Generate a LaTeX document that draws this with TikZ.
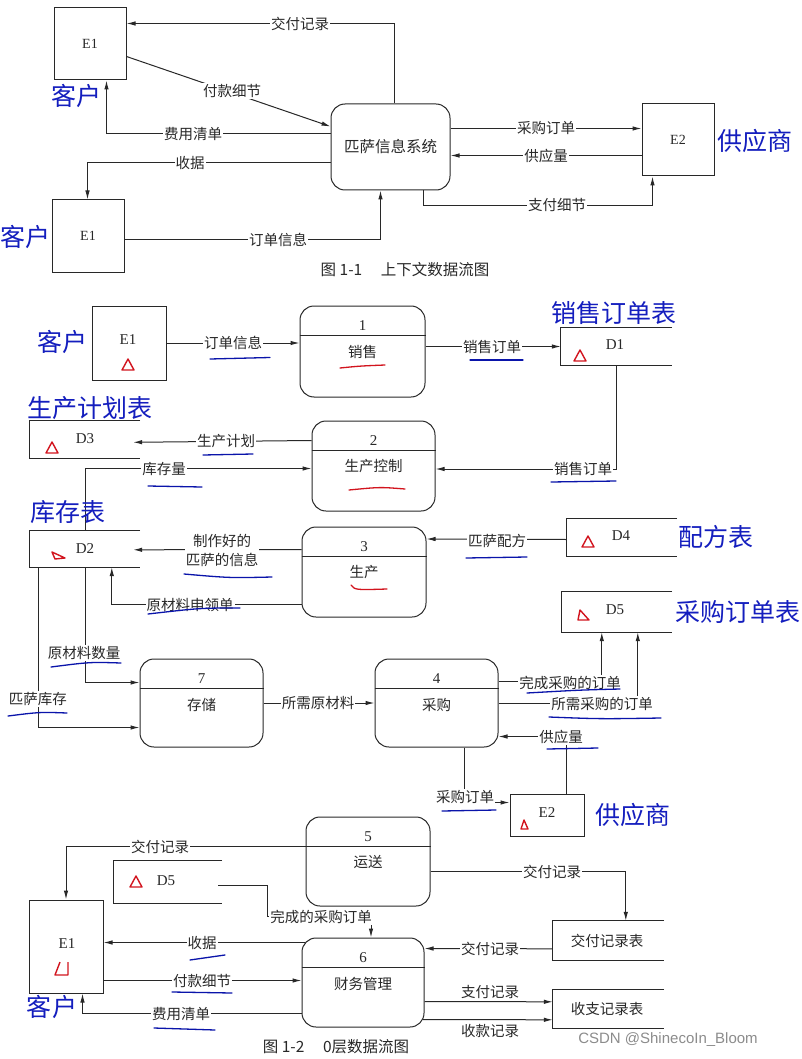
\documentclass[tikz,border=0pt]{standalone}
\usepackage{fontspec}
\setmainfont{Liberation Serif}
\newfontfamily\cjk{Noto Sans CJK SC}
\newfontfamily\wmfont{Liberation Sans}
\usetikzlibrary{calc,arrows.meta}
\definecolor{ink}{RGB}{40,40,40}
\definecolor{hand}{RGB}{20,30,190}
\definecolor{annot}{RGB}{10,20,170}
\definecolor{redmark}{RGB}{210,20,30}
\tikzset{
 ln/.style={draw=ink, line width=1pt},
 arr/.style={ln, -{Latex[length=9pt,width=4.5pt]}},
 ent/.style={draw=ink, line width=1pt, inner sep=0pt, font=\fontsize{14}{16}\selectfont, text=ink},
 proc/.style={draw=ink, line width=1pt, rounded corners=14pt, inner sep=0pt},
 store/.style={inner sep=0pt},
 lbl/.style={font=\cjk\fontsize{14.5}{19}\selectfont, text=ink, fill=white, inner sep=1pt},
 nolbl/.style={font=\cjk\fontsize{14.5}{19}\selectfont, text=ink, inner sep=1pt},
 num/.style={font=\fontsize{15}{17}\selectfont, text=ink, inner sep=0pt},
 bigblue/.style={font=\cjk\fontsize{25}{27}\selectfont, text=hand, inner sep=0pt},
 uline/.style={draw=annot, line width=1.3pt, line cap=round},
 rline/.style={draw=redmark, line width=1.3pt, line cap=round},
 rtri/.style={draw=redmark, line width=1.4pt, line join=round},
 wm/.style={font=\wmfont\fontsize{15}{17}\selectfont, text=black!45, inner sep=0pt},
}
\newcommand\procparts[3]{%
 \draw[ln] ($(#1.north west)+(0,30)$) -- ($(#1.north east)+(0,30)$);
 \node[num] (#1-n) at ($(#1.north)+(0,20)$) {#2};
 \node[nolbl] (#1-t) at ($(#1.north)+(0,46)$) {#3};}
\newcommand\storeshape[1]{\draw[ln] (#1.north east) -- (#1.north west) -- (#1.south west) -- (#1.south east);}
\newcommand\redtri[1]{\draw[rtri] ($(#1)+(-6,5)$) -- ($(#1)+(0,-6)$) -- ($(#1)+(6,5)$) -- cycle;}
\begin{document}
\begin{tikzpicture}[x=1pt,y=-1pt]
\useasboundingbox[fill=white] (0,0) rectangle (802,1059);

% ================= Figure 1-1 =================
\node[ent, minimum width=72pt, minimum height=72pt] (ca) at (90,44) {E1};
\node[ent, minimum width=72pt, minimum height=72pt] (cb) at (88,236) {E1};
\node[proc, minimum width=119pt, minimum height=86pt, font=\cjk\fontsize{15.5}{17}\selectfont, text=ink] (sys) at (390.5,147) {匹萨信息系统};
\node[ent, minimum width=72pt, minimum height=72pt] (sa) at (678,140) {E2};

\draw[arr] ($(sys.north)+(4,0)$) |- ($(ca.north east)+(0,16)$);
\draw[arr] ($(ca.north east)+(0,49)$) -- ($(sys.north west)+(0,23)$);
\draw[arr] ($(sys.north west)+(0,30)$) -| ($(ca.south west)+(53,0)$);
\draw[arr] ($(sys.north west)+(0,59)$) -| ($(cb.north west)+(36,0)$);
\draw[arr] ($(cb.north east)+(0,40)$) -| ($(sys.south west)+(50,0)$);
\draw[arr] ($(sys.north east)+(0,25)$) -- ($(sa.north west)+(0,25)$);
\draw[arr] ($(sa.north west)+(0,52)$) -- ($(sys.north east)+(0,52)$);
\draw[arr] ($(sys.south west)+(93,0)$) -- ++(0,15) -| ($(sa.south west)+(11,0)$);

\node[lbl] (t1) at (300,24) {交付记录};
\node[lbl] (t2) at (232,91) {付款细节};
\node[lbl] (t3) at (193,134) {费用清单};
\node[lbl] (t4) at (190,163) {收据};
\node[lbl] (t5) at (278,240) {订单信息};
\node[lbl] (t6) at (546,128) {采购订单};
\node[lbl] (t7) at (546,156) {供应量};
\node[lbl] (t8) at (557,205) {支付细节};
\node[nolbl, font=\cjk\fontsize{15.5}{19}\selectfont] (cap1) at (405,270) {图 1-1\hspace{1.2em}上下文数据流图};

\node[bigblue] (ca-b) at (76,96) {客户};
\node[bigblue] (cb-b) at (25.5,237) {客户};
\node[bigblue] (sa-b) at (755,141) {供应商};

% ================= Figure 1-2 =================
\node[ent, minimum width=74pt, minimum height=74pt] (c1) at (129,343) {};
\node[num] (c1-t) at (128,340) {E1};
\node[proc, minimum width=125pt, minimum height=91pt] (p1) at (362.5,351.5) {};
\procparts{p1}{1}{销售}
\node[store, minimum width=111pt, minimum height=37pt] (d1) at (616.5,346.5) {};
\storeshape{d1}
\node[num] (d1-t) at (615,345) {D1};

\node[store, minimum width=110pt, minimum height=37pt] (d3) at (85,439.5) {};
\storeshape{d3}
\node[num] (d3-t) at (85,439) {D3};
\node[proc, minimum width=123pt, minimum height=90pt] (p2) at (373.5,466) {};
\procparts{p2}{2}{生产控制}

\node[store, minimum width=110pt, minimum height=36pt] (d2) at (85,549) {};
\storeshape{d2}
\node[num] (d2-t) at (85,549) {D2};
\node[proc, minimum width=124pt, minimum height=90pt] (p3) at (364,572) {};
\procparts{p3}{3}{生产}
\node[store, minimum width=110pt, minimum height=37pt] (d4) at (622,537.5) {};
\storeshape{d4}
\node[num] (d4-t) at (621,536) {D4};
\node[store, minimum width=110pt, minimum height=40pt] (d5) at (617,612) {};
\storeshape{d5}
\node[num] (d5-t) at (615,610) {D5};

\node[proc, minimum width=123pt, minimum height=88pt] (p7) at (201.5,703) {};
\procparts{p7}{7}{存储}
\node[proc, minimum width=123pt, minimum height=88pt] (p4) at (436.5,703) {};
\procparts{p4}{4}{采购}
\node[ent, minimum width=74pt, minimum height=42pt] (s1) at (547,815) {};
\node[num] (s1-t) at (547,813) {E2};

% connectors middle
\draw[arr] (c1.east) -- (c1.east -| p1.west);
\draw[arr] (d1.west -| p1.east) -- (d1.west);
\draw[arr] ($(p2.north west)+(0,20)$) -- ($(d3.north east)+(-7,21.5)$);
\draw[arr] (d2.north) |- ($(p2.north west)+(0,48)$);
\draw[arr] (d1.south) |- ($(p2.east)+(0,3)$);
\draw[arr] ($(p3.north west)+(0,23)$) -- ($(d2.north east)+(-7,19)$);
\draw[arr] ($(p3.north west)+(0,78)$) -| ($(d2.south west)+(82,0)$);
\draw[arr] ($(d4.west)+(0,2)$) -- ($(p3.north east)+(0,12.5)$);
\draw[arr] (d2.south) |- ($(p7.north west)+(0,24)$);
\draw[arr] ($(d2.south west)+(9,0)$) |- ($(p7.north west)+(0,69)$);
\draw[arr] (p7.east) -- (p4.west);
\draw[arr] ($(p4.north east)+(0,23)$) -| ($(d5.south west)+(40,0)$);
\draw[arr] ($(p4.north east)+(0,45)$) -| ($(d5.south west)+(76,0)$);
\draw[arr] ($(s1.north west)+(57,0)$) |- ($(p4.north east)+(0,78)$);
\draw[arr] ($(p4.south west)+(90,0)$) |- ($(s1.north west)+(0,9)$);

\node[lbl] (m1) at (233,343) {订单信息};
\node[lbl] (m2) at (492,347) {销售订单};
\node[lbl] (m3) at (226,441) {生产计划};
\node[lbl] (m4) at (164,469) {库存量};
\node[lbl] (m5) at (583,469) {销售订单};
\node[lbl, align=center] (m6) at (222,550) {制作好的\\匹萨的信息};
\node[lbl] (m7) at (190,605) {原材料申领单};
\node[lbl] (m8) at (497,541) {匹萨配方};
\node[lbl] (m9) at (84,653) {原材料数量};
\node[lbl] (m10) at (38,699) {匹萨库存};
\node[lbl] (m11) at (318,703) {所需原材料};
\node[lbl] (m12) at (570,683) {完成采购的订单};
\node[lbl] (m13) at (602,704) {所需采购的订单};
\node[lbl] (m14) at (561,737) {供应量};
\node[lbl] (m15) at (465,797) {采购订单};

\node[bigblue] (c1-b) at (62,342) {客户};
\node[bigblue] (d1-b) at (614,313) {销售订单表};
\node[bigblue] (d3-b) at (90,408) {生产计划表};
\node[bigblue] (d2-b) at (68,512) {库存表};
\node[bigblue] (d4-b) at (716,537) {配方表};
\node[bigblue] (d5-b) at (738,612) {采购订单表};
\node[bigblue] (s1-b) at (633,815) {供应商};

% ================= bottom =================
\node[proc, minimum width=124pt, minimum height=89pt] (p5) at (368,861.5) {};
\procparts{p5}{5}{运送}
\node[proc, minimum width=122pt, minimum height=89pt] (p6) at (363,982.5) {};
\procparts{p6}{6}{财务管理}
\node[ent, minimum width=74pt, minimum height=93pt] (c2) at (66,946.5) {};
\node[num] (c2-t) at (67,944) {E1};
\node[store, minimum width=108pt, minimum height=42pt] (d5b) at (168,882) {};
\storeshape{d5b}
\node[num] (d5b-t) at (166,881) {D5};
\node[store, minimum width=111pt, minimum height=39pt] (dr) at (608.5,940.5) {};
\storeshape{dr}
\node[nolbl] (dr-t) at (607,941) {交付记录表};
\node[store, minimum width=111pt, minimum height=38pt] (ds) at (608.5,1009) {};
\storeshape{ds}
\node[nolbl] (ds-t) at (607,1009) {收支记录表};

\draw[arr] ($(p5.north west)+(0,30)$) -| (c2.north);
\draw[arr] ($(d5b.north east)+(-4,25)$) -| ($(d5b.north east)+(45,56)$) -| ($(p6.north)+(8,0)$);
\draw[arr] ($(p6.north west)+(3,5)$) -- ($(c2.north east)+(0,43)$);
\draw[arr] ($(c2.north east)+(0,81)$) -- ($(p6.north west)+(0,43)$);
\draw[arr] ($(p6.north west)+(0,76)$) -| ($(c2.south west)+(54,0)$);
\draw[arr] ($(p5.north east)+(0,55)$) -| ($(dr.north west)+(73,0)$);
\draw[arr] ($(dr.north west)+(0,28)$) -- ($(p6.north east)+(0,11)$);
\draw[arr] ($(p6.north east)+(0,64)$) -- ($(ds.north west)+(0,12)$);
\draw[arr] ($(p6.north east)+(-2,82)$) -- ($(ds.north west)+(0,30)$);

\node[lbl] (b1) at (160,847) {交付记录};
\node[lbl] (b2) at (321,917) {完成的采购订单};
\node[lbl] (b3) at (202,943) {收据};
\node[lbl] (b4) at (202,981) {付款细节};
\node[lbl] (b5) at (181,1014) {费用清单};
\node[lbl] (b6) at (552,872) {交付记录};
\node[lbl] (b7) at (490,949) {交付记录};
\node[nolbl] (b8) at (490,992) {支付记录};
\node[nolbl] (b9) at (490,1031) {收款记录};
\node[bigblue] (c2-b) at (52,1007) {客户};
\node[nolbl, font=\cjk\fontsize{15.5}{19}\selectfont] (cap2) at (336,1047) {图 1-2\hspace{1.2em}0层数据流图};
\node[wm] (wmk) at (668,1040) {CSDN @ShinecoIn\_Bloom};

% ================= hand annotations =================
\draw[uline] (210,359) -- (270,357.5);
\draw[uline] (470,360) -- (523,360);
\draw[uline] (203,455) -- (253,454);
\draw[uline] (148,486) -- (202,487);
\draw[uline] (184,574) .. controls (230,578) .. (272,577);
\draw[uline] (148,614) .. controls (200,608) .. (240,608);
\draw[uline] (551,482) -- (616,481);
\draw[uline] (466,558) -- (527,557);
\draw[uline] (51,667) .. controls (90,662) .. (121,663);
\draw[uline] (8,716) .. controls (40,712) .. (67,713);
\draw[uline] (527,693) .. controls (580,690) .. (620,689);
\draw[uline] (549,717) .. controls (600,719) .. (661,718);
\draw[uline] (547,749) -- (598,748);
\draw[uline] (442,811) -- (496,810);
\draw[uline] (190,960) -- (225,955);
\draw[uline] (172,992) -- (232,993);
\draw[uline] (154,1028) -- (215,1030);

\draw[rline] (340,368) .. controls (360,366) .. (385,365);
\draw[rline] (349,490) .. controls (380,487) .. (405,489);
\draw[rline] (351,585) .. controls (355,590) .. (387,589);

\redtri{128,365}
\redtri{580,356}
\redtri{52,448}
\draw[rtri] (52,552) -- (65,558) -- (55,559) -- cycle;
\redtri{588,542}
\draw[rtri] (580,610) -- (578,620) -- (589,620) -- cycle;
\draw[rtri] (521,829) -- (524,820) -- (528,829) -- cycle;
\redtri{136,882}
\draw[rtri] (60,962) -- (55,975) -- (68,975) -- (68,962);
\end{tikzpicture}
\end{document}
